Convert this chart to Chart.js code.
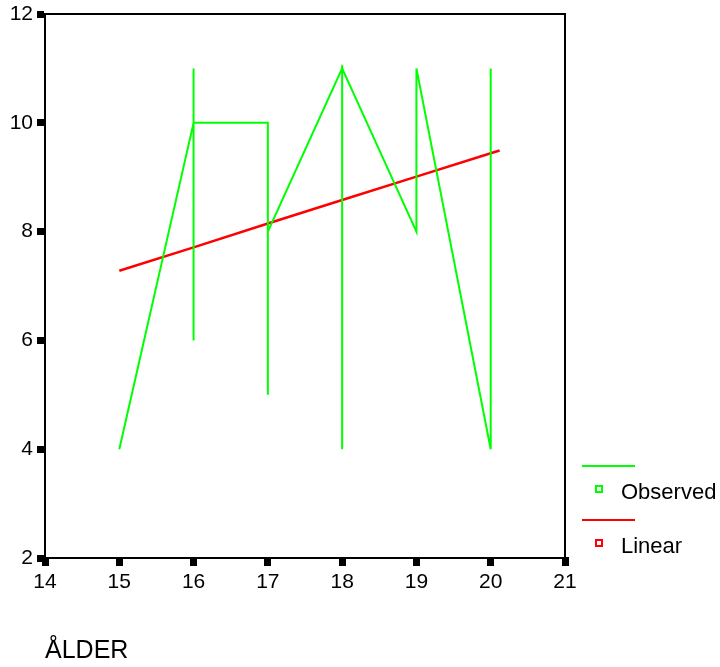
<!DOCTYPE html>
<html>
<head>
<meta charset="utf-8">
<script src="https://cdn.jsdelivr.net/npm/chart.js@4"></script>
<style>
  body { margin: 0; background: #fff; }
</style>
</head>
<body>
<canvas id="chart" width="720" height="667"></canvas>
<script>
// Observerade värden (i den ordning de är förbundna)
const obsX = [15, 16, 16, 16, 16, 17, 17, 17, 18, 18, 18, 19, 19, 20, 20];
const obsY = [4, 10, 11, 6, 10, 10, 5, 8, 11, 4, 11, 8, 11, 4, 11];

// Linjär anpassning
const linX = [15, 16, 17, 18, 19, 20, 20.12];
const linY = [7.28, 7.71, 8.15, 8.58, 9.01, 9.44, 9.49];

const xTicks = [14, 15, 16, 17, 18, 19, 20, 21];
const yTicks = [2, 4, 6, 8, 10, 12];
const legendLabels = ['Observed', 'Linear'];
const seriesColors = ['#00ff00', '#ff0000'];

const toPoints = (xs, ys) => xs.map((x, i) => ({ x: x, y: ys[i] }));
const fontFamily = '"Liberation Sans", Arial, sans-serif';

// Ram runt diagramytan
const framePlugin = {
    id: 'frame',
    afterDraw(chart) {
        const { ctx, chartArea: a } = chart;
        ctx.save();
        ctx.strokeStyle = '#000';
        ctx.lineWidth = 2;
        ctx.strokeRect(a.left, a.top, a.right - a.left, a.bottom - a.top);
        ctx.restore();
    }
};

// Förklaring till höger, SPSS-stil
const legendPlugin = {
    id: 'spssLegend',
    afterDraw(chart) {
        const ctx = chart.ctx;
        ctx.save();
        ctx.font = '22px ' + fontFamily;
        ctx.textBaseline = 'middle';
        legendLabels.forEach((label, i) => {
            const y0 = 466 + i * 54;
            ctx.strokeStyle = seriesColors[i];
            ctx.lineWidth = 2;
            ctx.beginPath();
            ctx.moveTo(582, y0);
            ctx.lineTo(635, y0);
            ctx.stroke();
            ctx.strokeRect(596, y0 + 20, 6, 6);
            ctx.fillStyle = '#000';
            ctx.fillText(label, 621, y0 + 27);
        });
        ctx.restore();
    }
};

new Chart(document.getElementById('chart'), {
    type: 'scatter',
    data: {
        datasets: [
            {
                label: legendLabels[0],
                data: toPoints(obsX, obsY),
                showLine: true,
                borderColor: seriesColors[0],
                borderWidth: 2,
                pointRadius: 0,
                tension: 0
            },
            {
                label: legendLabels[1],
                data: toPoints(linX, linY),
                showLine: true,
                borderColor: seriesColors[1],
                borderWidth: 2.5,
                pointRadius: 0,
                tension: 0
            }
        ]
    },
    options: {
        responsive: false,
        animation: false,
        layout: { padding: { left: 0, top: 14, right: 155, bottom: 0 } },
        plugins: {
            legend: { display: false },
            tooltip: { enabled: false }
        },
        scales: {
            x: {
                type: 'linear',
                min: 14,
                max: 21,
                afterBuildTicks: (s) => { s.ticks = xTicks.map(v => ({ value: v })); },
                afterFit: (s) => { s.height = 109; s.paddingLeft = 0; s.paddingRight = 0; },
                grid: { drawOnChartArea: false, lineWidth: 7, color: '#000', tickLength: 8 },
                border: { color: '#000', width: 2 },
                ticks: {
                    color: '#000',
                    padding: 4,
                    maxRotation: 0,
                    font: { family: fontFamily, size: 21 }
                },
                title: {
                    display: true,
                    text: 'ÅLDER',
                    align: 'start',
                    color: '#000',
                    padding: { top: 0, bottom: 1 },
                    font: { family: fontFamily, size: 25 }
                }
            },
            y: {
                type: 'linear',
                min: 2,
                max: 12,
                afterBuildTicks: (s) => { s.ticks = yTicks.map(v => ({ value: v })); },
                afterFit: (s) => { s.width = 45; s.paddingTop = 0; s.paddingBottom = 0; },
                grid: { drawOnChartArea: false, lineWidth: 7, color: '#000', tickLength: 8 },
                border: { color: '#000', width: 2 },
                ticks: {
                    color: '#000',
                    padding: 4,
                    font: { family: fontFamily, size: 21 }
                }
            }
        }
    },
    plugins: [framePlugin, legendPlugin]
});
</script>
</body>
</html>
